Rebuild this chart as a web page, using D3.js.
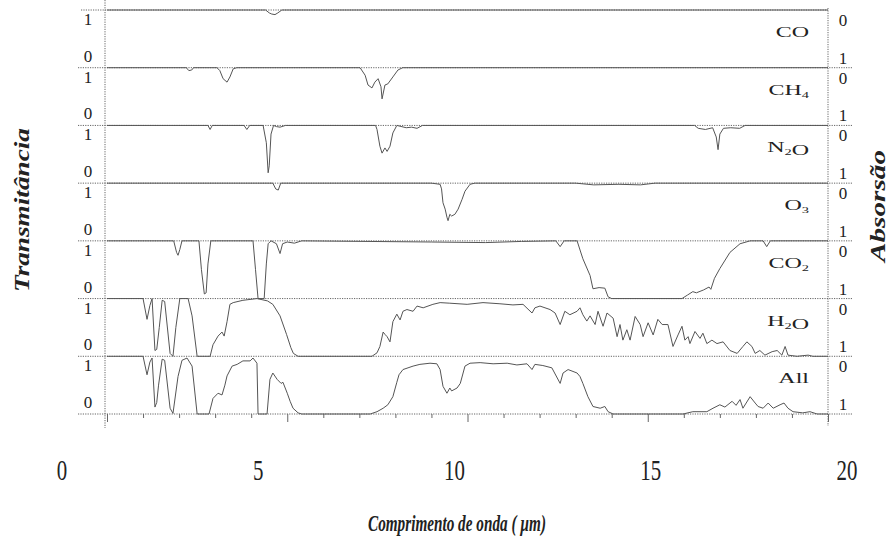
<!DOCTYPE html>
<html>
<head>
<meta charset="utf-8">
<script src="https://cdn.jsdelivr.net/npm/d3@7"></script>
<style>
  body { margin: 0; background: #fff; }
  text { font-family: "Liberation Serif", "DejaVu Serif", serif; fill: #222; }
</style>
</head>
<body>
<div id="chart"></div>
<script>
// panel names, top to bottom ("_" marks a subscript digit)
var gasNames = ["CO", "CH_4", "N_2O", "O_3", "CO_2", "H_2O", "All"];

// transmittance: [wavelength (um), transmittance]
var coData = [[0,1],[4.4,1],[4.5,0.95],[4.57,0.93],[4.66,0.92],[4.74,0.95],[4.85,1],[20,1]];

var ch4Data = [[0,1],[2.2,1],[2.27,0.95],[2.35,0.96],[2.4,1],[3.05,1],[3.13,0.95],[3.22,0.81],[3.33,0.75],
  [3.41,0.84],[3.5,0.98],[3.6,1],[7.02,1],[7.16,0.87],[7.24,0.7],[7.35,0.65],[7.43,0.75],[7.52,0.81],
  [7.6,0.67],[7.63,0.46],[7.71,0.7],[7.79,0.72],[7.93,0.84],[8.07,0.96],[8.2,1],[20,1]];

var n2oData = [[0,1],[2.8,1],[2.86,0.93],[2.92,1],[3.8,1],[3.88,0.93],[3.96,1],[4.33,1],[4.42,0.7],
  [4.47,0.18],[4.5,0.3],[4.55,0.85],[4.62,1],[4.7,0.98],[4.8,0.97],[4.95,1],[7.45,1],[7.49,0.93],
  [7.57,0.64],[7.63,0.52],[7.71,0.61],[7.77,0.55],[7.85,0.64],[7.93,0.87],[8.04,1],[8.3,0.96],[8.45,0.97],
  [8.6,0.95],[8.75,1],[16.3,1],[16.4,0.95],[16.6,0.93],[16.8,0.96],[16.9,0.8],[16.95,0.58],[17.0,0.85],
  [17.1,0.95],[17.3,0.96],[17.55,0.95],[17.7,1],[20,1]];

var o3Data = [[0,1],[4.6,1],[4.68,0.9],[4.75,0.88],[4.82,1],[9.0,1],[9.24,0.98],[9.28,0.9],[9.32,0.66],
  [9.38,0.55],[9.43,0.41],[9.46,0.35],[9.51,0.46],[9.56,0.43],[9.65,0.46],[9.74,0.55],[9.85,0.72],
  [9.93,0.86],[10.07,0.98],[10.2,1],[13,1],[13.5,0.97],[14.2,0.98],[14.8,0.97],[15.2,1],[20,1]];

var co2Data = [[0,1],[1.85,1],[1.93,0.8],[1.97,0.75],[2.02,0.85],[2.08,1],[2.55,1],[2.62,0.5],[2.7,0.08],
  [2.75,0.1],[2.8,0.6],[2.88,1],[4.05,1],[4.12,0.5],[4.19,0],[4.36,0],[4.42,0.6],[4.47,0.95],[4.55,1],
  [4.7,0.95],[4.8,0.78],[4.87,0.95],[5.0,0.98],[5.2,0.96],[5.4,1],[9.0,0.98],[10.5,0.97],[11.5,0.99],
  [12.45,1],[12.57,0.9],[12.68,1],[13.04,1],[13.2,0.69],[13.4,0.4],[13.48,0.17],[13.65,0.19],[13.81,0.18],
  [13.9,0.03],[14.0,0],[15.95,0],[16.1,0.06],[16.25,0.12],[16.35,0.1],[16.55,0.15],[16.7,0.2],[16.75,0.16],
  [16.85,0.35],[17.0,0.52],[17.28,0.8],[17.56,0.95],[17.84,1],[18.2,1],[18.3,0.9],[18.4,1],[20,1]];

var h2oData = [[0,1],[1.0,1],[1.11,0.64],[1.19,0.88],[1.25,1],[1.33,0.1],[1.38,0.12],[1.45,0.5],[1.53,0.97],
  [1.6,0.95],[1.75,0.05],[1.83,0],[1.91,0.5],[2.02,1],[2.25,1],[2.36,0.7],[2.5,0],[2.86,0],[2.94,0.2],
  [3.08,0.35],[3.19,0.42],[3.25,0.35],[3.33,0.6],[3.41,0.9],[3.5,0.93],[3.77,0.97],[4.16,1],[4.45,0.96],
  [4.6,0.9],[4.8,0.7],[4.98,0.38],[5.1,0.15],[5.17,0.05],[5.3,0],[7.35,0],[7.49,0.06],[7.57,0.17],
  [7.66,0.42],[7.71,0.38],[7.77,0.34],[7.85,0.25],[7.93,0.6],[8.04,0.73],[8.13,0.63],[8.21,0.78],
  [8.32,0.81],[8.49,0.78],[8.6,0.87],[8.77,0.84],[9.04,0.9],[9.24,0.93],[9.51,0.92],[9.99,0.9],
  [10.43,0.93],[10.9,0.91],[11.26,0.89],[11.54,0.9],[11.79,0.75],[11.87,0.84],[12.01,0.87],[12.29,0.81],
  [12.43,0.75],[12.57,0.55],[12.7,0.78],[12.84,0.72],[13.04,0.78],[13.12,0.84],[13.2,0.72],[13.31,0.61],
  [13.4,0.7],[13.54,0.55],[13.62,0.78],[13.76,0.52],[13.87,0.75],[14.04,0.66],[14.15,0.34],[14.23,0.55],
  [14.31,0.28],[14.42,0.46],[14.51,0.28],[14.65,0.69],[14.79,0.55],[14.87,0.34],[15.01,0.58],[15.15,0.37],
  [15.28,0.64],[15.4,0.55],[15.56,0.55],[15.7,0.17],[15.84,0.37],[15.95,0.52],[16.03,0.28],[16.12,0.34],
  [16.17,0.22],[16.31,0.43],[16.45,0.31],[16.53,0.4],[16.64,0.22],[16.78,0.28],[16.92,0.22],[17.09,0.25],
  [17.28,0.1],[17.48,0.05],[17.64,0.17],[17.75,0.25],[17.89,0.17],[17.98,0.05],[18.11,0.1],[18.25,0.02],
  [18.45,0.08],[18.59,0.1],[18.72,0.02],[18.81,0.17],[18.89,0.02],[19.14,0],[19.45,0.02],[19.58,0],[20,0]];

var allData = [[0,1],[1.0,1],[1.11,0.68],[1.19,0.9],[1.25,0.97],[1.33,0.12],[1.38,0.2],[1.43,0.5],[1.53,0.95],
  [1.6,0.93],[1.75,0.1],[1.83,0.01],[1.97,0.65],[2.08,0.93],[2.22,0.97],[2.36,0.83],[2.5,0],[2.83,0],
  [2.94,0.27],[3.08,0.36],[3.19,0.33],[3.27,0.5],[3.33,0.66],[3.47,0.83],[3.61,0.86],[3.77,0.92],
  [3.97,0.92],[4.05,0.97],[4.16,0.88],[4.19,0],[4.44,0],[4.52,0.6],[4.6,0.71],[4.72,0.6],[4.83,0.53],
  [4.88,0.55],[5.0,0.36],[5.08,0.22],[5.16,0.1],[5.3,0.02],[5.4,0],[7.3,0],[7.49,0.04],[7.66,0.1],
  [7.79,0.16],[7.93,0.3],[8.04,0.55],[8.1,0.68],[8.21,0.77],[8.35,0.8],[8.49,0.83],[8.68,0.86],[8.96,0.88],
  [9.15,0.87],[9.24,0.77],[9.32,0.48],[9.43,0.36],[9.51,0.45],[9.56,0.4],[9.71,0.45],[9.8,0.53],[9.93,0.83],
  [10.07,0.88],[10.35,0.89],[10.71,0.87],[11.1,0.88],[11.37,0.85],[11.65,0.87],[11.79,0.77],[11.87,0.86],
  [12.09,0.84],[12.34,0.8],[12.57,0.53],[12.65,0.71],[12.79,0.77],[13.04,0.71],[13.12,0.65],[13.2,0.53],
  [13.34,0.3],[13.48,0.13],[13.68,0.1],[13.81,0.13],[13.9,0.04],[14.04,0],[15.98,0],[16.25,0.04],
  [16.64,0.04],[16.81,0.1],[17.0,0.16],[17.14,0.12],[17.34,0.22],[17.45,0.15],[17.56,0.25],[17.64,0.1],
  [17.84,0.3],[17.98,0.19],[18.06,0.13],[18.2,0.1],[18.34,0.19],[18.48,0.1],[18.67,0.16],[18.78,0.19],
  [18.89,0.1],[19.03,0.04],[19.3,0.02],[19.5,0.04],[19.7,0],[20,0]];

var seriesList = [coData, ch4Data, n2oData, o3Data, co2Data, h2oData, allData];

var xTickLabels = [0, 5, 10, 15, 20];
var leftTicks = ["1", "0"];   // transmittance, top / bottom of each panel
var rightTicks = ["0", "1"];  // absorption, top / bottom of each panel

var width = 893, height = 548;
var svg = d3.select("#chart").append("svg")
    .attr("width", width)
    .attr("height", height);

// plot area and the (offset) printed tick labels of the scan
var x = d3.scaleLinear().domain([0, 20]).range([107, 828]);
var xLabel = d3.scaleLinear().domain([0, 20]).range([62, 847]);
var panel = d3.scaleLinear().domain([0, 7]).range([10, 414]);

var frame = svg.append("g")
    .attr("stroke", "#666")
    .attr("stroke-width", 1)
    .attr("stroke-dasharray", "1.2,1.2");

// horizontal panel borders
frame.selectAll("line.h")
  .data(d3.range(0, 8))
  .enter().append("line")
    .attr("class", "h")
    .attr("x1", function(d) { return d === 0 ? x(0) - 26 : x(0) - 29; })
    .attr("x2", function(d) { return d === 0 ? x(20) : x(20) + 24; })
    .attr("y1", function(d) { return panel(d); })
    .attr("y2", function(d) { return panel(d); });

// vertical borders
frame.append("line")
    .attr("x1", x(0) - 2).attr("x2", x(0) - 2)
    .attr("y1", 0).attr("y2", panel(7) + 14);
frame.append("line")
    .attr("x1", x(20)).attr("x2", x(20))
    .attr("y1", panel(0) - 2).attr("y2", panel(7) + 12);

// bottom ticks, one per micrometre
var xAxis = svg.append("g")
    .attr("transform", "translate(0," + panel(7) + ")")
    .call(d3.axisBottom(x).ticks(20).tickSize(4).tickFormat(""));
xAxis.select(".domain").remove();
xAxis.selectAll(".tick line")
    .attr("stroke", "#666")
    .attr("y2", function(d) { return d % 5 === 0 ? 8 : 4; });

// curves
seriesList.forEach(function(data, i) {
  var y = d3.scaleLinear().domain([0, 1]).range([panel(i + 1), panel(i)]);
  var line = d3.line()
      .x(function(d) { return x(d[0]); })
      .y(function(d) { return y(d[1]); });

  svg.append("path")
      .datum(data)
      .attr("fill", "none")
      .attr("stroke", "#555")
      .attr("stroke-width", 1)
      .attr("stroke-linejoin", "round")
      .attr("d", line);

  // 1 / 0 on the left, 0 / 1 on the right
  var ticks = svg.append("g").attr("font-size", 17);
  ticks.append("text").attr("x", 88).attr("y", panel(i) + 15)
      .attr("text-anchor", "middle").text(leftTicks[0]);
  ticks.append("text").attr("x", 88).attr("y", panel(i + 1) - 6)
      .attr("text-anchor", "middle").text(leftTicks[1]);
  ticks.append("text").attr("x", 843).attr("y", panel(i) + 16)
      .attr("text-anchor", "middle").text(rightTicks[0]);
  ticks.append("text").attr("x", 843).attr("y", panel(i + 1) - 4)
      .attr("text-anchor", "middle").text(rightTicks[1]);

  // gas name, stretched like the scan
  var name = svg.append("text")
      .attr("transform", "translate(809," + (panel(i) + 27) + ") scale(1.6,1)")
      .attr("text-anchor", "end")
      .attr("font-size", 15)
      .attr("fill", "#333");
  gasNames[i].split(/(_\d)/).forEach(function(part) {
    if (!part) return;
    if (part[0] === "_") {
      name.append("tspan").attr("font-size", 9).attr("dy", 3).text(part.slice(1));
      name.append("tspan").attr("dy", -3).text("");
    } else {
      name.append("tspan").text(part);
    }
  });
});

// printed wavelength labels
svg.append("g").selectAll("text")
  .data(xTickLabels)
  .enter().append("text")
    .attr("transform", function(d) { return "translate(" + xLabel(d) + ",480) scale(0.72,1)"; })
    .attr("text-anchor", "middle")
    .attr("font-size", 29)
    .attr("fill", "#333")
    .text(function(d) { return d; });

// axis titles
svg.append("text")
    .attr("x", 457).attr("y", 531)
    .attr("text-anchor", "middle")
    .attr("font-size", 24)
    .attr("font-weight", "bold")
    .attr("font-style", "italic")
    .attr("textLength", 178)
    .attr("lengthAdjust", "spacingAndGlyphs")
    .text("Comprimento de onda ( \u00b5m)");

svg.append("text")
    .attr("transform", "translate(29,210) rotate(-90)")
    .attr("text-anchor", "middle")
    .attr("font-size", 22)
    .attr("font-weight", "bold")
    .attr("font-style", "italic")
    .attr("textLength", 164)
    .attr("lengthAdjust", "spacingAndGlyphs")
    .text("Transmitância");

svg.append("text")
    .attr("transform", "translate(885,206) rotate(-90)")
    .attr("text-anchor", "middle")
    .attr("font-size", 21)
    .attr("font-weight", "bold")
    .attr("font-style", "italic")
    .attr("textLength", 112)
    .attr("lengthAdjust", "spacingAndGlyphs")
    .text("Absorsão");
</script>
</body>
</html>
